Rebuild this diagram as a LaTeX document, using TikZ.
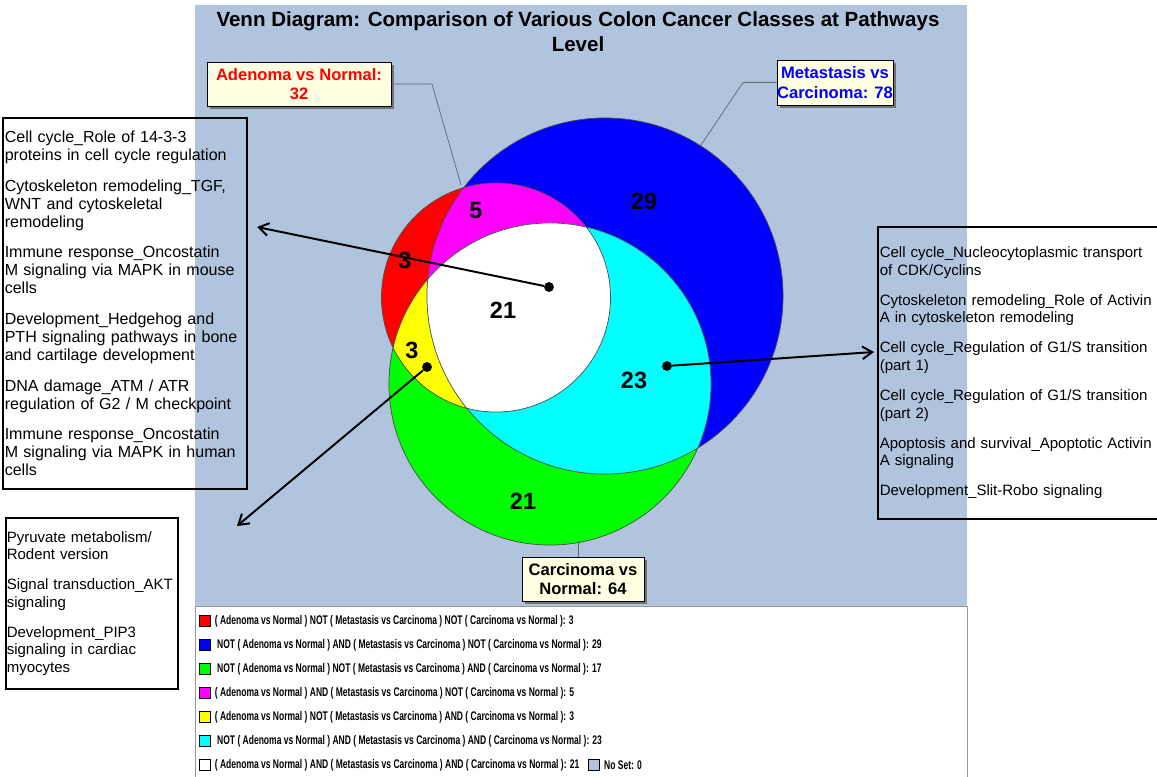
\documentclass[tikz,border=0pt]{standalone}
\usepackage{fontspec}
\setmainfont{Liberation Sans}
\newfontfamily\legfont[FakeStretch=0.68]{Liberation Sans}
\usetikzlibrary{arrows.meta,positioning,shadows}
\definecolor{bgblue}{HTML}{B0C4DE}
\definecolor{tagfill}{HTML}{FFFFE1}
\definecolor{vred}{HTML}{FF0000}
\definecolor{vblue}{HTML}{0000FF}
\definecolor{vgreen}{HTML}{00FF00}
\definecolor{vmagenta}{HTML}{FF00FF}
\definecolor{vyellow}{HTML}{FFFF00}
\definecolor{vcyan}{HTML}{00FFFF}
\newcommand{\cirA}{(496,297.5) circle[radius=2.8625cm]}
\newcommand{\cirM}{(605,296) circle[radius=4.45cm]}
\newcommand{\cirC}{(550,384) circle[radius=4.025cm]}
\begin{document}
\begin{tikzpicture}[x=0.025cm, y=-0.025cm,
    num/.style={font=\fontsize{16.7pt}{20pt}\selectfont\bfseries, inner sep=0pt},
    dot/.style={circle, fill=black, inner sep=0pt, minimum size=7pt},
    arr/.style={line width=1.4pt, -{Straight Barb[length=7pt,width=9pt]}},
    lead/.style={draw=black!60, line width=0.5pt},
    tag/.style={draw=black, fill=tagfill, line width=0.6pt, align=center, inner sep=0pt,
        font=\fontsize{11.8pt}{14pt}\selectfont\bfseries,
        drop shadow={shadow xshift=2.2pt, shadow yshift=-2.2pt, opacity=1, fill=black!55}},
    listbox/.style={draw=black, line width=1.1pt, anchor=north west, align=left,
        inner ysep=0pt, font=\fontsize{10.67pt}{12.45pt}\selectfont},
    sq/.style={draw=black, line width=0.5pt, inner sep=0pt, minimum size=7.8pt},
    legrow/.style={anchor=west, inner sep=0pt,
        font=\legfont\fontsize{8.9pt}{10pt}\selectfont\bfseries}]
    \useasboundingbox (0,0) rectangle (1157,776);

    % Background
    \fill[bgblue] (195,5) rectangle (967,606);
    \draw[draw=black!40, fill=white] (195,606) rectangle (967,780);
    \node[font=\fontsize{14.6pt}{17.8pt}\selectfont\bfseries, align=center] (title) at (578,32)
        {Venn Diagram: Comparison of Various Colon Cancer Classes at Pathways\\Level};

    % Sets
    \fill[vblue] \cirM;
    \fill[vgreen] \cirC;
    \fill[vred] \cirA;
    \begin{scope}
        \clip \cirA;
        \fill[vmagenta] \cirM;
        \fill[vyellow] \cirC;
    \end{scope}
    \begin{scope}
        \clip \cirM;
        \fill[vcyan] \cirC;
    \end{scope}
    \begin{scope}
        \clip \cirA;
        \clip \cirM;
        \fill[white] \cirC;
    \end{scope}
    \draw[black!70, line width=0.5pt] \cirM;
    \draw[black!70, line width=0.5pt] \cirC;
    \draw[black!70, line width=0.5pt] \cirA;

    % Counts
    \node[num] (n29) at (644,201) {29};
    \node[num] (n5) at (476,211) {5};
    \node[num] (n3a) at (405,260) {3};
    \node[num] (n21a) at (503,310) {21};
    \node[num] (n3c) at (412,350) {3};
    \node[num] (n23) at (634,380) {23};
    \node[num] (n21c) at (523,501) {21};

    % Set labels
    \coordinate (kA) at (432,84);
    \coordinate (pA) at (461,185);
    \coordinate (kM) at (743,82.5);
    \coordinate (pM) at (701,145);
    \coordinate (pC) at (578,543);
    \node[tag, text=vred, minimum width=4.6cm, minimum height=1.1cm] (tagA) at (299,84)
        {Adenoma vs Normal:\\32};
    \node[tag, text=vblue, minimum width=2.7cm, minimum height=1.125cm] (tagM) at (835,82.5)
        {Metastasis vs\\Carcinoma: 78};
    \node[tag, minimum width=3.05cm, minimum height=1.1cm] (tagC) at (583,579)
        {Carcinoma vs\\Normal: 64};
    \draw[lead] (tagA.east) -- (kA) -- (pA);
    \draw[lead] (tagM.west) -- (kM) -- (pM);
    \draw[lead] (pC) -- (pC |- tagC.north);

    % Pathway lists
    \node[listbox, text width=6.0cm, inner xsep=0.05cm, minimum height=9.275cm,
        font=\fontsize{11.4pt}{12.8pt}\selectfont] (lbox) at (2,117)
        {Cell cycle\_Role of 14-3-3\\proteins in cell cycle regulation\\[9pt]
         Cytoskeleton remodeling\_TGF,\\WNT and cytoskeletal\\remodeling\\[9pt]
         Immune response\_Oncostatin\\M signaling via MAPK in mouse\\cells\\[9pt]
         Development\_Hedgehog and\\PTH signaling pathways in bone\\and cartilage development\\[9pt]
         DNA damage\_ATM / ATR\\regulation of G2 / M checkpoint\\[9pt]
         Immune response\_Oncostatin\\M signaling via MAPK in human\\cells};
    \node[listbox, text width=6.975cm, inner xsep=0.05cm, minimum height=7.3cm] (rbox) at (877,226)
        {Cell cycle\_Nucleocytoplasmic transport\\of CDK/Cyclins\\[9pt]
         Cytoskeleton remodeling\_Role of Activin\\A in cytoskeleton remodeling\\[9pt]
         Cell cycle\_Regulation of G1/S transition\\(part 1)\\[9pt]
         Cell cycle\_Regulation of G1/S transition\\(part 2)\\[9pt]
         Apoptosis and survival\_Apoptotic Activin\\A signaling\\[9pt]
         Development\_Slit-Robo signaling};
    \node[listbox, text width=4.25cm, inner xsep=0.025cm, minimum height=4.275cm] (pbox) at (5,517)
        {Pyruvate metabolism/\\Rodent version\\[9pt]
         Signal transduction\_AKT\\signaling\\[9pt]
         Development\_PIP3\\signaling in cardiac\\myocytes};

    % Arrows
    \node[dot] (d21) at (549,287) {};
    \node[dot] (d3) at (427,367) {};
    \node[dot] (d23) at (667,366) {};
    \coordinate (tL) at (257,227);
    \coordinate (tP) at (237,526);
    \coordinate (tR) at (874,352);
    \draw[arr] (d21) -- (tL);
    \draw[arr] (d3) -- (tP);
    \draw[arr] (d23) -- (tR);

    % Legend
    \node[sq, fill=vred] (s1) at (204.5,621) {};
    \node[sq, fill=vblue] (s2) at (204.5,645) {};
    \node[sq, fill=vgreen] (s3) at (204.5,669) {};
    \node[sq, fill=vmagenta] (s4) at (204.5,693) {};
    \node[sq, fill=vyellow] (s5) at (204.5,717) {};
    \node[sq, fill=vcyan] (s6) at (204.5,741) {};
    \node[sq, fill=white] (s7) at (204.5,765) {};
    \node[legrow, right=3pt of s1] (l1) {( Adenoma vs Normal ) NOT ( Metastasis vs Carcinoma ) NOT ( Carcinoma vs Normal ): 3};
    \node[legrow, right=3pt of s2] (l2) {\ NOT ( Adenoma vs Normal ) AND ( Metastasis vs Carcinoma ) NOT ( Carcinoma vs Normal ): 29};
    \node[legrow, right=3pt of s3] (l3) {\ NOT ( Adenoma vs Normal ) NOT ( Metastasis vs Carcinoma ) AND ( Carcinoma vs Normal ): 17};
    \node[legrow, right=3pt of s4] (l4) {( Adenoma vs Normal ) AND ( Metastasis vs Carcinoma ) NOT ( Carcinoma vs Normal ): 5};
    \node[legrow, right=3pt of s5] (l5) {( Adenoma vs Normal ) NOT ( Metastasis vs Carcinoma ) AND ( Carcinoma vs Normal ): 3};
    \node[legrow, right=3pt of s6] (l6) {\ NOT ( Adenoma vs Normal ) AND ( Metastasis vs Carcinoma ) AND ( Carcinoma vs Normal ): 23};
    \node[legrow, right=3pt of s7] (l7) {( Adenoma vs Normal ) AND ( Metastasis vs Carcinoma ) AND ( Carcinoma vs Normal ): 21};
    \node[sq, fill=bgblue, right=6pt of l7] (s8) {};
    \node[legrow, right=3pt of s8] (l8) {No Set: 0};
\end{tikzpicture}
\end{document}
